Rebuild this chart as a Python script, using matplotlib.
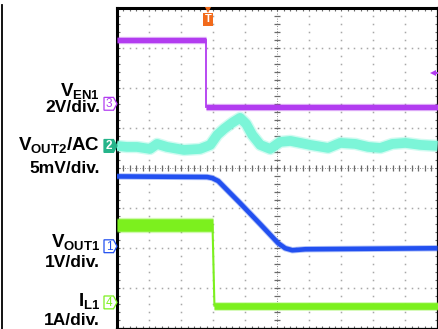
import numpy as np
import matplotlib
matplotlib.use("Agg")
import matplotlib.pyplot as plt
from matplotlib.patches import Polygon, Rectangle
from matplotlib.lines import Line2D
from matplotlib.transforms import blended_transform_factory

plt.rcParams['font.family'] = ['Liberation Sans', 'DejaVu Sans']
plt.rcParams['mathtext.fontset'] = 'custom'
plt.rcParams['mathtext.rm'] = 'Liberation Sans:bold'
plt.rcParams['mathtext.it'] = 'Liberation Sans:bold'
plt.rcParams['mathtext.bf'] = 'Liberation Sans:bold'

# ---- waveform data: time and amplitude in screen divisions ----
en1_t = [0.0, 2.78, 2.78, 10.0]
en1_v = [3.18, 3.18, 1.53, 1.53]

vout2_t = [0.0, 0.31, 0.625, 1.03, 1.25, 1.56, 2.09, 2.59, 2.91, 3.13, 3.34, 3.59,
           3.84, 4.03, 4.22, 4.47, 4.78, 5.09, 5.41, 6.03, 6.59, 6.97, 7.44, 7.84,
           8.22, 8.59, 9.0, 9.47, 10.0]
vout2_v = [0.55, 0.525, 0.525, 0.475, 0.6, 0.525, 0.45, 0.475, 0.575, 0.825, 0.975,
           1.125, 1.25, 1.1, 0.825, 0.575, 0.475, 0.65, 0.675, 0.575, 0.5, 0.625,
           0.6, 0.525, 0.5, 0.6, 0.625, 0.575, 0.55]

vout1_t = [0.0, 2.81, 2.97, 3.16, 3.84, 4.47, 5.03, 5.25, 5.47, 5.88, 10.0]
vout1_v = [-0.21, -0.225, -0.25, -0.325, -0.875, -1.4, -1.875, -2.0, -2.05, -2.025, -2.0]

il1_t = [0.0, 2.98, 3.04, 10.0]
il1_v = [-1.42, -1.42, -3.43, -3.43]

# channel ground markers (ch3, ch2, ch1, ch4) and trigger settings
ch_names = ['3', '2', '1', '4']
ch_levels = [1.6, 0.55, -1.95, -3.35]
trig_time = 2.84
trig_level = 2.38

# channel captions
cap_names = [r'$V_{EN1}$', r'$V_{OUT2}$/AC', r'$V_{OUT1}$', r'$I_{L1}$']
cap_scales = ['2V/div.', '5mV/div.', '1V/div.', '1A/div.']

c_en1 = '#b23cf0'
c_vout2 = '#7cf5d8'
c_vout1 = '#2250f0'
c_il1 = '#7cf01e'
c_ch2_tag = '#25b48a'
c_trig = '#f26a1b'
tag_colors = {'3': c_en1, '2': c_ch2_tag, '1': c_vout1, '4': c_il1}

W, H = 438, 329
fig = plt.figure(figsize=(W / 100, H / 100), dpi=100)
ax = fig.add_axes([117 / W, 1 - 328.5 / H, 320.5 / W, 321 / H])
ax.set_xlim(0, 10)
ax.set_ylim(-4, 4)
ax.set_xticks([])
ax.set_yticks([])
for side, lw in (('left', 2.2), ('top', 2.2), ('right', 1.6), ('bottom', 1.6)):
    ax.spines[side].set_linewidth(lw)
    ax.spines[side].set_color('black')

# graticule
grid_c = '#a8a8a8'
sub_x = np.arange(0, 10.001, 0.2)
sub_y = np.arange(-4, 4.001, 0.2)
for gx in range(1, 10):
    if gx == 5:
        continue
    ax.plot(np.full_like(sub_y, gx), sub_y, ls='none', marker='s', ms=1.1,
            mew=0, color=grid_c, zorder=1)
for gy in range(-3, 4):
    if gy == 0:
        continue
    ax.plot(sub_x, np.full_like(sub_x, gy), ls='none', marker='s', ms=1.1,
            mew=0, color=grid_c, zorder=1)
tick_c = '#6a6a6a'
ax.plot(np.full_like(sub_y, 5), sub_y, ls='none', marker='_', ms=5, mew=0.9,
        color=tick_c, zorder=1)
ax.plot(sub_x, np.zeros_like(sub_x), ls='none', marker='|', ms=5, mew=0.9,
        color=tick_c, zorder=1)
ax.plot([5, 5], [-4, 4], ls=(0, (1, 2)), lw=0.6, color=tick_c, zorder=1)
ax.plot([0, 10], [0, 0], ls=(0, (1, 2)), lw=0.6, color=tick_c, zorder=1)
for edge in (4, -4):
    ax.plot(sub_x, np.full_like(sub_x, edge), ls='none', marker='|', ms=4,
            mew=0.8, color=tick_c, zorder=1)
for edge in (0, 10):
    ax.plot(np.full_like(sub_y, edge), sub_y, ls='none', marker='_', ms=4,
            mew=0.8, color=tick_c, zorder=1)

# traces: soft halo plus solid core
def trace(t, v, color, lw, halo):
    ax.plot(t, v, color=color, lw=lw + halo, alpha=0.35, solid_capstyle='butt',
            solid_joinstyle='round', zorder=3)
    ax.plot(t, v, color=color, lw=lw, solid_capstyle='butt',
            solid_joinstyle='round', zorder=4)

trace(en1_t[:2], en1_v[:2], c_en1, 3.8, 1.5)
ax.plot(en1_t[1:3], en1_v[1:3], color=c_en1, lw=1.3, zorder=4)
trace(en1_t[2:], en1_v[2:], c_en1, 3.8, 1.5)

trace(vout2_t, vout2_v, c_vout2, 7.0, 2.0)
trace(vout1_t, vout1_v, c_vout1, 3.3, 1.3)

trace(il1_t[:2], il1_v[:2], c_il1, 9.0, 2.0)
ax.plot(il1_t[1:3], il1_v[1:3], color=c_il1, lw=1.5, zorder=4)
trace(il1_t[2:], il1_v[2:], c_il1, 4.8, 1.5)

# channel ground markers on the left edge
btf = blended_transform_factory(fig.transFigure, ax.transData)
x0, x1, x2 = 104.0 / W, 113.5 / W, 117 / W
hh = 0.16
for name, lvl in zip(ch_names, ch_levels):
    col = tag_colors[name]
    filled = name == '2'
    poly = Polygon([(x0, lvl + hh), (x1, lvl + hh), (x2, lvl), (x1, lvl - hh),
                    (x0, lvl - hh)], closed=True, transform=btf,
                   facecolor=col if filled else 'white', edgecolor=col,
                   lw=0.9, clip_on=False, zorder=6)
    ax.add_patch(poly)
    ax.text((x0 + x1) / 2 + 0.5 / W, lvl - 0.01, name, transform=btf,
            ha='center', va='center', fontsize=8.5, clip_on=False, zorder=7,
            color='white' if filled else col,
            fontweight='bold' if filled else 'normal')

# trigger position marker at top
tb = blended_transform_factory(ax.transData, ax.transAxes)
bw = 0.3
ax.add_patch(Rectangle((trig_time - bw / 2, 1 - 18 / 321), bw, 12.5 / 321,
                       transform=tb, facecolor=c_trig, edgecolor='none',
                       clip_on=False, zorder=6))
ax.text(trig_time, 1 - 11.5 / 321, 'T', transform=tb, ha='center', va='center',
        fontsize=8, color='white', fontweight='bold', zorder=7)
ax.plot([trig_time], [1 - 2.5 / 321], transform=tb, marker='v', ms=4,
        color=c_trig, mew=0, clip_on=False, zorder=7)

# trigger level marker on the right edge
ax.plot([9.86], [trig_level], marker='<', ms=5, color=c_en1, mew=0,
        clip_on=False, zorder=7)
ax.plot([9.86, 10.0], [trig_level, trig_level], color=c_en1, lw=1.3,
        clip_on=False, zorder=7)

# captions
def fy(py):
    return 1 - py / H

lab_x = 100 / W
name_base = [96, 150, 247, 306]
scale_base = [112, 173, 267, 325]
for nm, sc, yb1, yb2 in zip(cap_names, cap_scales, name_base, scale_base):
    fig.text(lab_x, fy(yb1), nm, ha='right', va='baseline', fontsize=13.5,
             fontweight='bold', color='black')
    fig.text(lab_x, fy(yb2), sc, ha='right', va='baseline', fontsize=12.5,
             fontweight='bold', color='black')

# border line on the far left
fig.add_artist(Line2D([1.5 / W, 1.5 / W], [0, fy(5)], transform=fig.transFigure,
                      color='black', lw=1.3))

fig.savefig('out.png', dpi=100)
